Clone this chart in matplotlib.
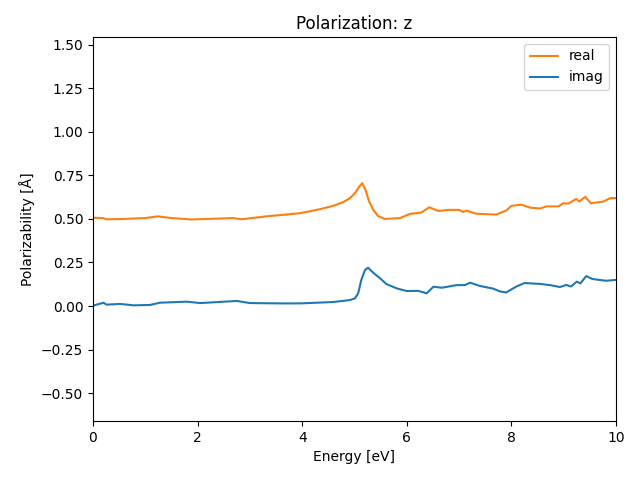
import matplotlib
matplotlib.use("Agg")
import matplotlib.pyplot as plt

# values
energy_real = [0.0, 0.19, 0.26, 0.5, 1.0, 1.24, 1.5, 1.89, 2.5, 2.68, 2.84, 3.32, 3.96,
               4.34, 4.59, 4.78, 4.91, 5.01, 5.09, 5.15, 5.21, 5.28, 5.36, 5.45, 5.58,
               5.87, 6.06, 6.28, 6.43, 6.6, 6.8, 7.0, 7.08, 7.14, 7.33, 7.71, 7.9, 8.0,
               8.19, 8.36, 8.55, 8.67, 8.9, 8.99, 9.09, 9.24, 9.3, 9.41, 9.52, 9.76,
               9.89, 10.0]
real = [0.507, 0.505, 0.498, 0.499, 0.505, 0.515, 0.505, 0.497, 0.503, 0.505, 0.498, 0.515,
        0.533, 0.556, 0.575, 0.596, 0.619, 0.648, 0.686, 0.705, 0.667, 0.60, 0.552, 0.517,
        0.50, 0.505, 0.529, 0.537, 0.567, 0.546, 0.552, 0.552, 0.54, 0.548, 0.53, 0.525,
        0.548, 0.575, 0.582, 0.565, 0.56, 0.572, 0.572, 0.59, 0.588, 0.615, 0.60, 0.627,
        0.59, 0.60, 0.62, 0.62]

energy_imag = [0.0, 0.2, 0.26, 0.52, 0.77, 1.09, 1.28, 1.79, 2.05, 2.75, 3.0, 3.64, 3.96,
               4.59, 4.91, 5.01, 5.07, 5.13, 5.2, 5.26, 5.36, 5.49, 5.61, 5.81, 6.0, 6.22,
               6.38, 6.51, 6.67, 6.95, 7.11, 7.21, 7.4, 7.65, 7.78, 7.9, 8.09, 8.25, 8.55,
               8.74, 8.93, 9.05, 9.14, 9.25, 9.32, 9.43, 9.55, 9.81, 10.0]
imag = [0.002, 0.019, 0.008, 0.012, 0.004, 0.006, 0.019, 0.025, 0.017, 0.029, 0.017, 0.015,
        0.015, 0.023, 0.034, 0.044, 0.073, 0.149, 0.207, 0.22, 0.191, 0.159, 0.126, 0.101,
        0.086, 0.087, 0.073, 0.111, 0.105, 0.12, 0.12, 0.134, 0.115, 0.10, 0.084, 0.078,
        0.111, 0.132, 0.127, 0.12, 0.109, 0.121, 0.112, 0.14, 0.13, 0.172, 0.155, 0.145,
        0.15]

fig, ax = plt.subplots(figsize=(6.4, 4.8), dpi=100)

ax.plot(energy_real, real, color="C1", label="real")
ax.plot(energy_imag, imag, color="C0", label="imag")

ax.set_xlim(0, 10)
ax.set_ylim(-0.66, 1.545)
ax.set_title("Polarization: z")
ax.set_xlabel("Energy [eV]")
ax.set_ylabel("Polarizability [Å]")
ax.legend(loc="upper right")

fig.subplots_adjust(left=0.1453, right=0.9625, top=0.923, bottom=0.123)
fig.savefig("out.png")
